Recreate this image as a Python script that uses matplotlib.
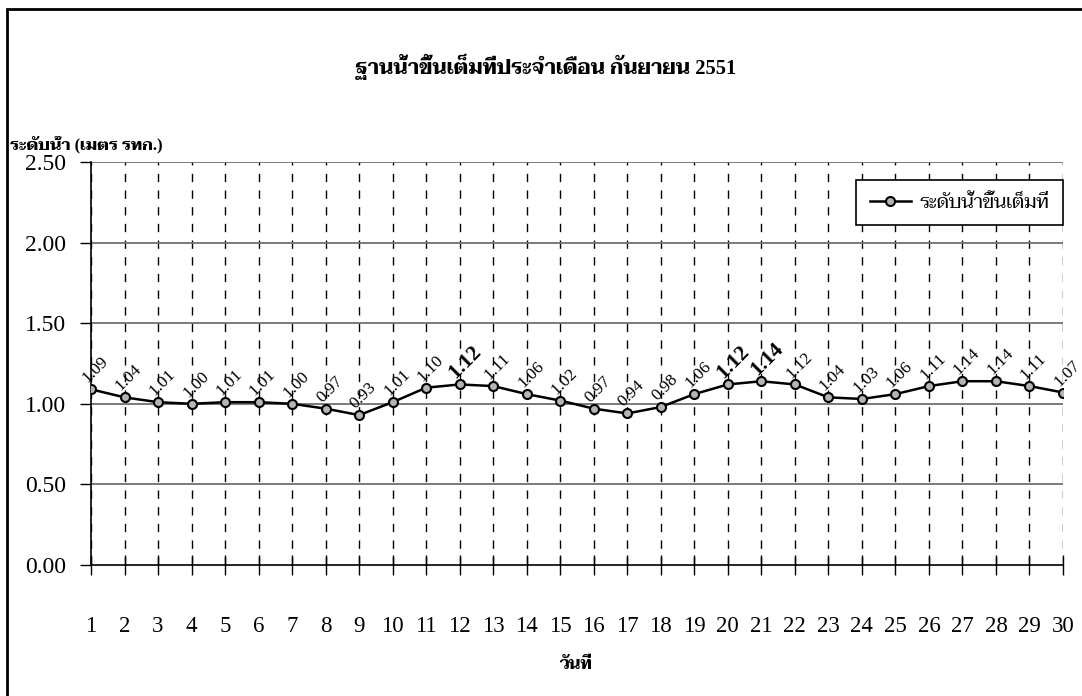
import matplotlib
matplotlib.use("Agg")
import matplotlib.pyplot as plt
from matplotlib.patches import Rectangle
from matplotlib import font_manager

days = list(range(1, 31))
levels = [1.09, 1.04, 1.01, 1.00, 1.01, 1.01, 1.00, 0.97, 0.93, 1.01,
          1.10, 1.12, 1.11, 1.06, 1.02, 0.97, 0.94, 0.98, 1.06, 1.12,
          1.14, 1.12, 1.04, 1.03, 1.06, 1.11, 1.14, 1.14, 1.11, 1.07]
bold_days = [12, 20, 21]
yticks = [0.0, 0.5, 1.0, 1.5, 2.0, 2.5]

title = "ฐานน้ำขึ้นเต็มที่ประจำเดือน กันยายน 2551"
ylab = "ระดับน้ำ (เมตร รทก.)"
xlab = "วันที่"
legend_label = "ระดับน้ำขึ้นเต็มที่"

fonts = font_manager.fontManager.ttflist
available = {f.name for f in fonts}
bold_ok = {f.name for f in fonts if f.weight in (700, 'bold') and f.style == 'normal'}
thai = 'DejaVu Sans'
prefs = ['Taviraj', 'Noto Serif Thai', 'Pridi', 'Sarabun', 'Noto Sans Thai', 'Athiti', 'Anuphan']
for name in prefs:
    if name in bold_ok:
        thai = name
        break
else:
    for name in prefs:
        if name in available:
            thai = name
            break

plt.rcParams['font.family'] = ['Liberation Serif', thai, 'DejaVu Sans']

fig = plt.figure(figsize=(10.82, 6.96), dpi=100)
ax = fig.add_axes([91/1082, 1-565/696, (1063-91)/1082, (565-162)/696])

for d in days:
    ax.axvline(d, color='black', lw=1.0, ls=(0, (6, 6)), zorder=1)
for y in yticks[1:]:
    ax.axhline(y, color='#707070', lw=1.3, zorder=1)

ax.plot(days, levels, color='black', lw=1.8, marker='o', markersize=6.5,
        markerfacecolor='#b4b4b4', markeredgecolor='black', markeredgewidth=1.5,
        zorder=3, label=legend_label)

for d, v in zip(days, levels):
    if d in bold_days:
        ax.annotate(f"{v:.2f}", (d, v), xytext=(4, 16), textcoords='offset points',
                    rotation=45, ha='center', va='center', fontsize=15.5, fontweight='bold',
                    rotation_mode='anchor')
    else:
        ax.annotate(f"{v:.2f}", (d, v), xytext=(3, 14), textcoords='offset points',
                    rotation=45, ha='center', va='center', fontsize=12.4,
                    rotation_mode='anchor')

ax.set_xlim(1, 30)
ax.set_ylim(0, 2.5)
ax.set_yticks(yticks)
ax.set_yticklabels([f"{y:.2f}" for y in yticks])
ax.set_xticks(days)
ax.tick_params(axis='y', direction='out', length=8, width=1, labelsize=17, pad=10)
ax.tick_params(axis='x', direction='inout', length=14, width=1, labelsize=16.5, pad=29.5)
for s in ['top', 'right']:
    ax.spines[s].set_visible(False)
ax.spines['left'].set_linewidth(1.2)
ax.spines['bottom'].set_linewidth(1.2)

leg = ax.legend(loc='upper right', bbox_to_anchor=(1.0, 1 - 18/403), borderaxespad=0,
                fancybox=False, edgecolor='black', framealpha=1, fontsize=14,
                handlelength=2.1, handletextpad=0.45, borderpad=0.7)
leg.get_frame().set_linewidth(1.2)

t_title = fig.text(546/1082, 1-67/696, title, ha='center', va='center', fontsize=16, fontweight='bold')
t_ylab = fig.text(10/1082, 1-146/696, ylab, ha='left', va='center', fontsize=13, fontweight='bold')
t_xlab = fig.text(576/1082, 1-665/696, xlab, ha='center', va='center', fontsize=13, fontweight='bold')

# scale Thai texts so their widths match the reference layout
fig.canvas.draw()
r = fig.canvas.get_renderer()
for t, target in [(t_title, 382), (t_ylab, 153), (t_xlab, 33), (leg.get_texts()[0], 130)]:
    w = t.get_window_extent(r).width
    if w > 0:
        t.set_fontsize(t.get_fontsize() * target / w)

fig.patches.append(Rectangle((7/1082, -0.1), 1.2, 1-9/696+0.1, transform=fig.transFigure,
                             fill=False, edgecolor='black', lw=2))

fig.savefig("out.png", dpi=100)
